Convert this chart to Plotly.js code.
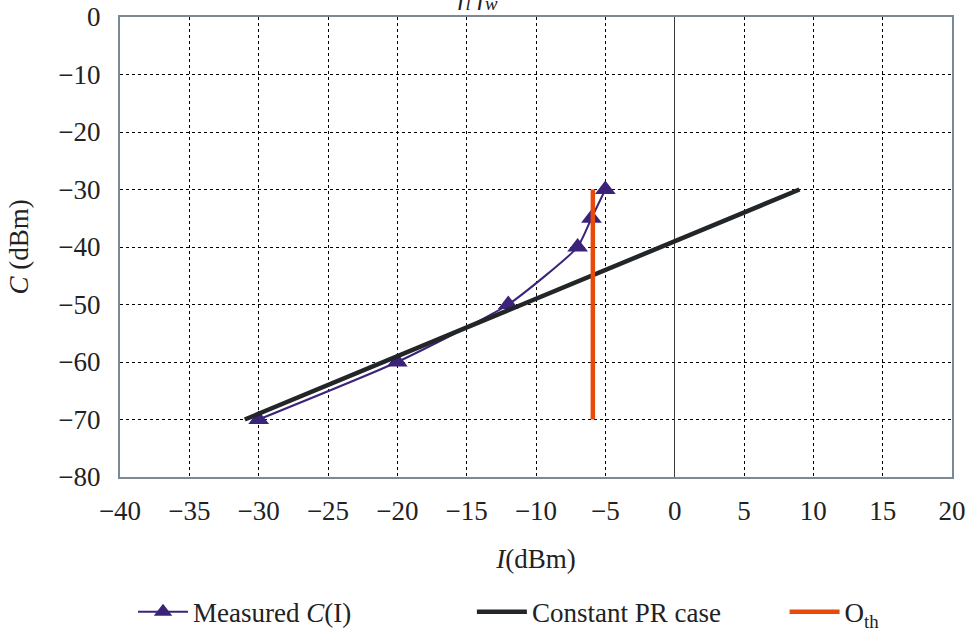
<!DOCTYPE html>
<html>
<head>
<meta charset="utf-8">
<script src="https://cdn.plot.ly/plotly-3.0.1.min.js"></script>
<style>html,body{margin:0;padding:0;background:#fff;}#chart{width:971px;height:633px;}</style>
</head>
<body>
<div id="chart"></div>
<script>
// Measured C(I)
const measuredI = [-30, -20, -12, -7, -6, -5];
const measuredC = [-70, -60, -50, -40, -35, -30];
// Constant PR case
const prI = [-31, 9];
const prC = [-70, -30];
// O_th threshold
const othI = [-5.9, -5.9];
const othC = [-30, -70];

const seriesNames = ['Measured <i>C</i>(I)', 'Constant PR case', 'O<sub>th</sub>'];

function f(size) {
  return {family: "'Liberation Serif', 'Times New Roman', serif", color: '#222', size: size};
}

const traces = [
  {x: measuredI, y: measuredC, name: seriesNames[0], mode: 'lines+markers', legend: 'legend',
   line: {color: '#3b2379', width: 2, shape: 'spline', smoothing: 0.5},
   marker: {symbol: 'triangle-up', size: 18, color: '#3b2379'}},
  {x: prI, y: prC, name: seriesNames[1], mode: 'lines', legend: 'legend2',
   line: {color: '#222628', width: 4.5}},
  {x: othI, y: othC, name: seriesNames[2], mode: 'lines', legend: 'legend3',
   line: {color: '#e84a0c', width: 4.5}}
];

function leg(x) {
  return {orientation: 'h', xref: 'container', yref: 'container', x: x, y: 0.033,
    xanchor: 'left', yanchor: 'middle', itemwidth: 50,
    font: f(27), bgcolor: 'rgba(0,0,0,0)'};
}

const layout = {
  width: 971, height: 633,
  margin: {l: 120, r: 19, t: 17, b: 156, autoexpand: false},
  paper_bgcolor: '#fff', plot_bgcolor: '#fff',
  font: f(27),
  showlegend: true,
  xaxis: {range: [-40, 20], dtick: 5, tick0: 0,
    showline: true, mirror: true, linecolor: '#7c8892', linewidth: 2,
    showgrid: true, gridcolor: '#000', griddash: 'dot', gridwidth: 1,
    zeroline: true, zerolinecolor: '#3a3a3a', zerolinewidth: 1.5,
    ticks: '', tickfont: f(27), ticklabelstandoff: 9, automargin: false,
    title: {text: '<i>I</i>(dBm)', font: f(27), standoff: 24}},
  yaxis: {range: [-80, 0], dtick: 10,
    showline: true, mirror: true, linecolor: '#7c8892', linewidth: 2,
    showgrid: true, gridcolor: '#000', griddash: 'dot', gridwidth: 1,
    zeroline: false, automargin: false,
    ticks: '', tickfont: f(27), ticklabelstandoff: 12,
    title: {text: '<i>C</i> (dBm)', font: f(27), standoff: 22}},
  legend: leg(0.137),
  legend2: leg(0.486),
  legend3: leg(0.808),
  annotations: [{xref: 'paper', yref: 'paper', x: 0.43, y: 1.043, yanchor: 'middle',
    showarrow: false, text: '<i>f<sub>l</sub> f<sub>w</sub></i>', font: f(27)}]
};

Plotly.newPlot('chart', traces, layout, {displayModeBar: false, staticPlot: true});
</script>
</body>
</html>
